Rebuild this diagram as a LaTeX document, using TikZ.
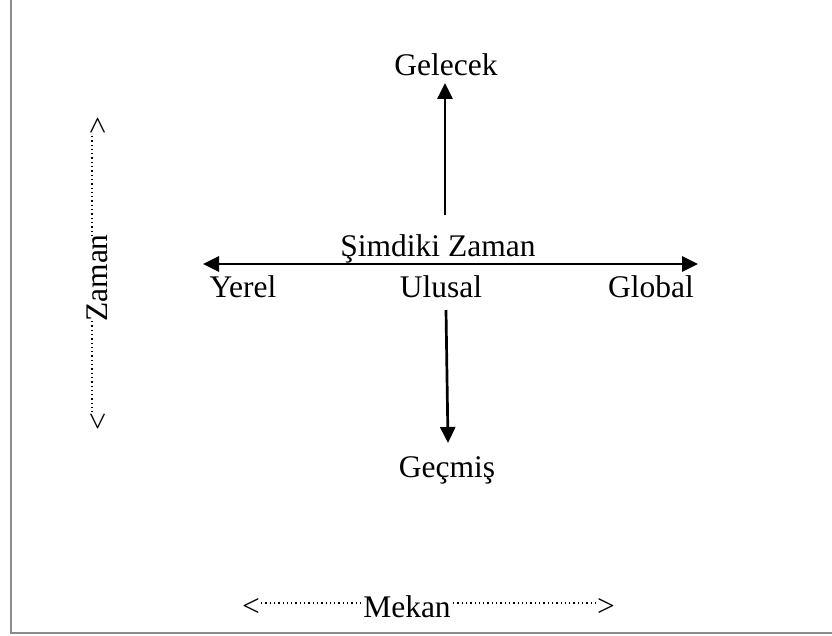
\documentclass[tikz,border=0pt]{standalone}
\usepackage{fontspec}
\setmainfont{Liberation Serif}
\usetikzlibrary{arrows.meta}
\begin{document}
\begin{tikzpicture}[x=1pt,y=-1pt,
  lbl/.style={inner sep=0pt, font=\fontsize{31.5}{36}\selectfont, anchor=base},
  chev/.style={inner sep=0pt, font=\fontsize{31.5}{36}\selectfont, anchor=center},
  axis/.style={line width=2.7pt, -{Triangle[length=16pt,width=15pt]}},
  dotline/.style={line width=1.3pt, dash pattern=on 1.3pt off 3pt},
  frameline/.style={draw=gray!90, line width=2pt}]
\useasboundingbox (0,0) rectangle (832,636);
% frame
\coordinate (ftop) at (11,0);
\coordinate (fcorner) at (11,633);
\coordinate (fright) at (832,633);
\draw[frameline] (ftop) -- (fcorner) -- (fright);
% labels
\node[lbl] (gelecek) at (446,76) {Gelecek};
\node[lbl] (simdiki) at (438,257) {Şimdiki Zaman};
\node[lbl] (yerel) at (243,297) {Yerel};
\node[lbl] (ulusal) at (441,297) {Ulusal};
\node[lbl] (global) at (651,297) {Global};
\node[lbl] (gecmis) at (447,477) {Geçmiş};
% arrows
\coordinate (upS) at (445,215);
\coordinate (upE) at (445,83);
\coordinate (hL) at (203,264);
\coordinate (hR) at (698,264);
\coordinate (dnS) at (446,310);
\coordinate (dnE) at (448,443);
\draw[axis] (upS) -- (upE);
\draw[axis, {Triangle[length=16pt,width=15pt]}-{Triangle[length=16pt,width=15pt]}] (hL) -- (hR);
\draw[axis] (dnS) -- (dnE);
% Zaman (vertical)
\node[chev, rotate=90] (zaman) at (97,278) {Zaman};
\node[chev, rotate=90] (zup) at (99,126) {>};
\node[chev, rotate=90] (zdn) at (99,422) {<};
\coordinate (zd1) at (92,136);
\coordinate (zd2) at (92,235);
\coordinate (zd3) at (92,321);
\coordinate (zd4) at (92,412);
\draw[dotline] (zd1) -- (zd2);
\draw[dotline] (zd3) -- (zd4);
% Mekan (horizontal)
\node[chev] (mekan) at (407,607) {Mekan};
\node[chev] (mleft) at (251,607) {<};
\node[chev] (mright) at (606,607) {>};
\coordinate (md1) at (261,603);
\coordinate (md2) at (362,603);
\coordinate (md3) at (453,603);
\coordinate (md4) at (597,603);
\draw[dotline] (md1) -- (md2);
\draw[dotline] (md3) -- (md4);
\end{tikzpicture}
\end{document}
